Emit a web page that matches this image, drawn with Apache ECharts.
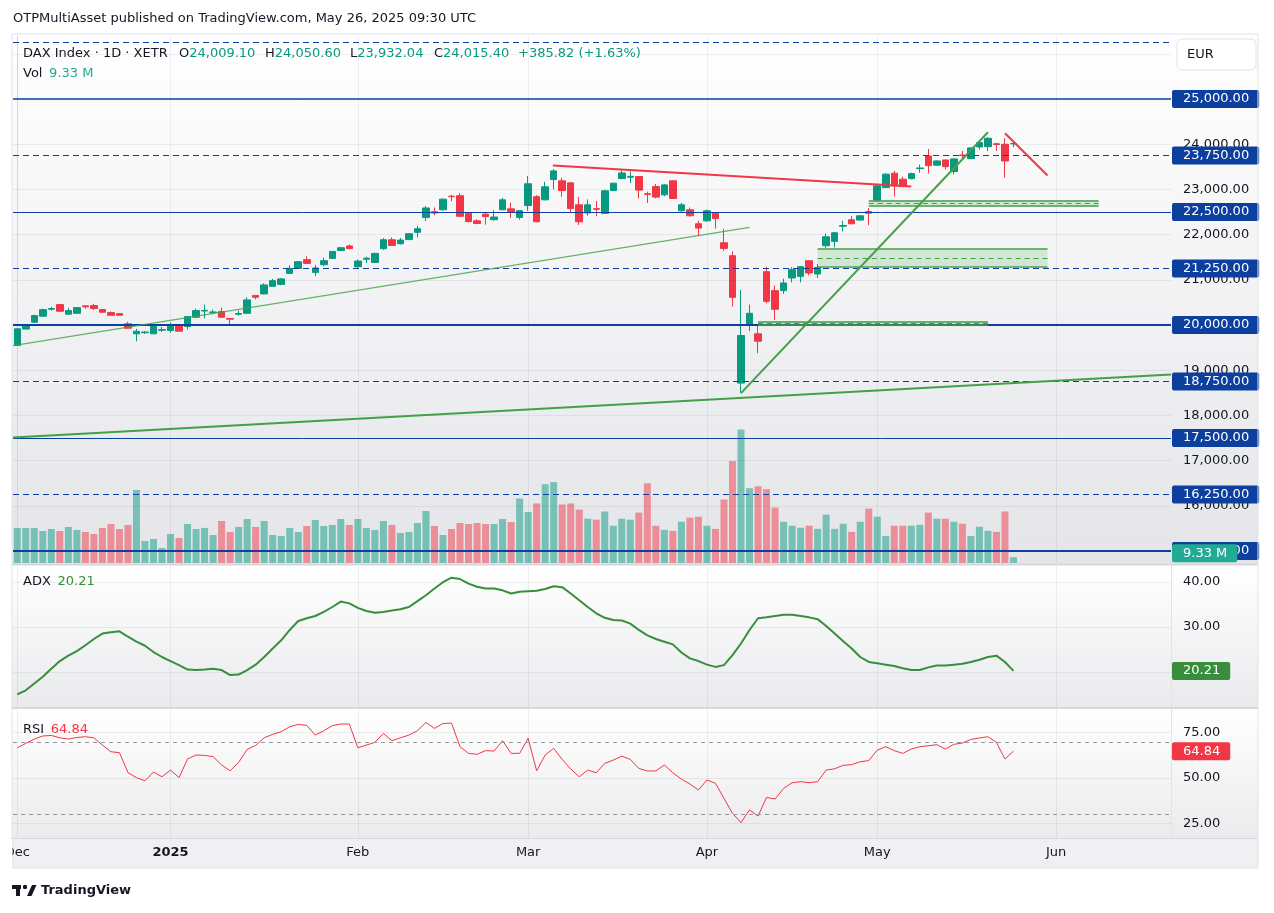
<!DOCTYPE html>
<html>
<head>
<meta charset="utf-8">
<title>DAX Index 1D</title>
<script src="https://cdn.jsdelivr.net/npm/echarts@6/dist/echarts.min.js"></script>
<style>
  html, body { margin: 0; padding: 0; background: #ffffff; }
  #chart { width: 1274px; height: 913px; }
</style>
</head>
<body>
<div id="chart"></div>
<script>
// ---- data --------------------------------------------------------------

// Xetra closed days inside the window
const xetraClosed = ['2024-12-24', '2024-12-25', '2024-12-26', '2024-12-31', '2025-01-01',
  '2025-04-18', '2025-04-21', '2025-05-01'];

// month labels on the time axis (first trading day of the month)
const monthTicks = {
  '2024-12-02': 'Dec', '2025-01-02': '2025', '2025-02-03': 'Feb', '2025-03-03': 'Mar',
  '2025-04-01': 'Apr', '2025-05-02': 'May', '2025-06-02': 'Jun'
};

// daily bars: open, high, low, close (2 Dec 2024 .. 26 May 2025)
const ohlc = [
  [19550, 19930, 19540, 19916], [19910, 20000, 19905, 19990], [20062, 20225, 20055, 20210],
  [20195, 20365, 20190, 20340], [20350, 20400, 20320, 20365], [20452, 20455, 20300, 20305],
  [20240, 20380, 20235, 20320], [20260, 20390, 20255, 20386], [20425, 20430, 20360, 20402],
  [20430, 20470, 20335, 20365], [20342, 20355, 20280, 20283], [20276, 20300, 20210, 20216],
  [20254, 20260, 20210, 20216], [20026, 20070, 19925, 19930], [19805, 19916, 19642, 19863],
  [19830, 19870, 19805, 19845], [19806, 19980, 19800, 19974], [19885, 19960, 19850, 19900],
  [19880, 20060, 19830, 20004], [20010, 20015, 19860, 19863], [19967, 20195, 19900, 20188],
  [20172, 20364, 20150, 20320], [20310, 20452, 20150, 20325], [20275, 20342, 20240, 20290],
  [20298, 20386, 20165, 20172], [20145, 20150, 20018, 20130], [20240, 20320, 20210, 20255],
  [20260, 20614, 20255, 20556], [20655, 20660, 20570, 20615], [20689, 20922, 20680, 20887],
  [20856, 21020, 20850, 20982], [20900, 21040, 20880, 21020], [21143, 21320, 21130, 21254],
  [21254, 21410, 21240, 21401], [21446, 21520, 21350, 21364], [21165, 21330, 21080, 21262],
  [21335, 21490, 21300, 21423], [21474, 21640, 21460, 21629], [21650, 21730, 21640, 21710],
  [21750, 21780, 21680, 21690], [21290, 21450, 21260, 21415], [21455, 21510, 21370, 21480],
  [21385, 21600, 21380, 21585], [21688, 21925, 21665, 21887], [21887, 21940, 21750, 21761],
  [21799, 21925, 21780, 21880], [21890, 22030, 21880, 22020], [22050, 22190, 21940, 22130],
  [22380, 22630, 22300, 22590], [22505, 22600, 22430, 22477], [22550, 22800, 22530, 22785],
  [22850, 22880, 22740, 22840], [22860, 22920, 22400, 22405], [22475, 22480, 22270, 22290],
  [22306, 22340, 22230, 22247], [22453, 22500, 22220, 22400], [22330, 22540, 22310, 22390],
  [22550, 22810, 22540, 22770], [22570, 22710, 22370, 22510], [22380, 22540, 22330, 22530],
  [22645, 23300, 22525, 23125], [22840, 22875, 22270, 22285], [22770, 23170, 22760, 23057],
  [23218, 23450, 23000, 23410], [23190, 23260, 22840, 22975], [23145, 23150, 22505, 22577],
  [22660, 22835, 22215, 22284], [22480, 22780, 22420, 22660], [22575, 22745, 22410, 22560],
  [22470, 22990, 22460, 22970], [22975, 23150, 22970, 23138], [23240, 23450, 23230, 23365],
  [23270, 23400, 23140, 23290], [23285, 23295, 22800, 22985], [22905, 22950, 22700, 22890],
  [23065, 23120, 22800, 22830], [22880, 23120, 22850, 23100], [23190, 23200, 22790, 22800],
  [22527, 22700, 22480, 22660], [22550, 22600, 22400, 22417], [22240, 22306, 21970, 22145],
  [22305, 22550, 22290, 22527], [22475, 22490, 22130, 22355], [21820, 22123, 21645, 21695],
  [21534, 21630, 20408, 20613], [18716, 20777, 18495, 19768], [20004, 20452, 19863, 20260],
  [19806, 20011, 19378, 19642], [21180, 21291, 20480, 20525], [20761, 20870, 20115, 20349],
  [20761, 21026, 20689, 20931], [21042, 21280, 20945, 21225], [21077, 21300, 20945, 21291],
  [21423, 21430, 21100, 21152], [21130, 21350, 21040, 21276], [21755, 22026, 21710, 21953],
  [21850, 22060, 21717, 22041], [22185, 22306, 22070, 22200], [22328, 22416, 22230, 22240],
  [22322, 22430, 22310, 22416], [22510, 22587, 22211, 22475], [22763, 23100, 22740, 23079],
  [23041, 23360, 23030, 23337], [23359, 23410, 22843, 23079], [23227, 23280, 23050, 23063],
  [23240, 23370, 23220, 23350], [23460, 23550, 23370, 23475], [23740, 23895, 23350, 23527],
  [23537, 23640, 23530, 23630], [23652, 23660, 23440, 23505], [23395, 23690, 23330, 23675],
  [23760, 23850, 23680, 23750], [23681, 23930, 23670, 23918], [23940, 24095, 23880, 24035],
  [23946, 24160, 23850, 24131], [24010, 24030, 23850, 23995], [23999, 24131, 23262, 23629.58],
  [24009.10, 24050.60, 23932.04, 24015.40]
];

// volume, millions
const volume = [
  56.4, 56.4, 56.4, 51.5, 54.7, 51.5, 58.0, 53.1, 49.9, 46.7, 56.4, 62.8, 54.7, 61.2, 117.5,
  35.4, 38.6, 24.2, 46.7, 40.3, 62.8, 54.7, 56.4, 45.1, 67.6, 49.9, 58.0, 70.8, 58.0, 67.6,
  45.1, 43.5, 56.4, 49.9, 59.6, 69.2, 59.6, 61.2, 70.8, 61.2, 70.8, 56.4, 53.1, 67.6, 61.2,
  48.3, 49.9, 64.4, 83.7, 59.6, 45.1, 54.7, 64.4, 62.8, 64.4, 62.8, 62.8, 70.8, 66.0, 103.8,
  82.1, 95.8, 126.7, 130.1, 94.2, 95.8, 86.0, 71.3, 69.7, 82.8, 59.9, 71.3, 69.7, 81.1, 128.3,
  59.9, 53.3, 51.7, 66.3, 72.9, 74.5, 59.9, 54.9, 102.2, 164.2, 214.9, 120.3, 123.5, 118.7, 89.2,
  66.3, 59.9, 56.7, 59.9, 54.9, 77.8, 54.9, 63.1, 50.1, 66.3, 87.6, 74.5, 43.5, 59.9, 59.9,
  59.9, 61.5, 81.1, 71.3, 71.3, 66.3, 63.1, 43.5, 58.3, 51.7, 50.1, 82.8, 9.33
];

// ADX (14)
const adx = [
  15.0, 15.9, 17.4, 18.9, 20.7, 22.4, 23.6, 24.6, 25.9, 27.3, 28.5, 28.8, 29.0, 27.8, 26.7,
  25.8, 24.4, 23.3, 22.4, 21.5, 20.5, 20.4, 20.5, 20.7, 20.4, 19.3, 19.4, 20.4, 21.6, 23.3,
  25.2, 27.0, 29.3, 31.3, 31.9, 32.4, 33.3, 34.4, 35.6, 35.2, 34.2, 33.5, 33.1, 33.3, 33.6,
  33.9, 34.4, 35.7, 37.0, 38.5, 39.9, 40.9, 40.6, 39.6, 38.9, 38.5, 38.5, 38.1, 37.4, 37.8,
  37.9, 38.0, 38.4, 39.0, 38.8, 37.4, 35.9, 34.4, 33.0, 32.0, 31.5, 31.4, 30.7, 29.3, 28.1,
  27.3, 26.7, 26.1, 24.3, 23.0, 22.4, 21.6, 21.1, 21.5, 23.7, 26.3, 29.3, 31.9, 32.1, 32.4,
  32.7, 32.7, 32.4, 32.1, 31.7, 30.2, 28.5, 26.8, 25.2, 23.3, 22.2, 21.9, 21.6, 21.3, 20.8,
  20.4, 20.4, 21.0, 21.4, 21.4, 21.6, 21.8, 22.2, 22.7, 23.3, 23.6, 22.2, 20.21
];

// RSI (14)
const rsi = [
  66.7, 69.1, 71.5, 73.2, 73.5, 72.2, 71.5, 72.4, 72.8, 72.2, 68.2, 64.5, 64.0, 53.0, 50.2,
  48.5, 53.3, 50.7, 54.4, 50.2, 60.5, 62.7, 62.5, 61.8, 57.2, 54.0, 58.6, 65.8, 68.0, 72.2,
  74.1, 75.6, 78.3, 79.6, 79.0, 73.7, 76.1, 78.9, 79.8, 79.8, 66.7, 68.2, 69.7, 74.6, 70.6,
  72.2, 73.7, 76.1, 80.7, 77.4, 80.1, 80.3, 67.3, 63.6, 63.1, 65.1, 64.9, 70.6, 63.6, 63.6,
  71.9, 54.0, 62.7, 66.4, 60.3, 55.0, 50.7, 54.4, 52.9, 58.1, 59.9, 62.1, 60.3, 55.3, 53.9,
  53.9, 57.2, 52.9, 49.4, 46.7, 43.4, 48.9, 47.1, 38.8, 30.5, 25.4, 32.4, 29.0, 39.3, 38.4,
  44.3, 47.4, 48.0, 47.4, 48.0, 54.4, 55.1, 57.0, 57.4, 59.0, 59.6, 65.4, 67.3, 65.1, 63.6,
  66.0, 67.3, 67.8, 68.4, 66.0, 68.6, 69.3, 71.3, 72.1, 72.8, 69.7, 60.5, 64.84
];

// axis tick values
const priceTicks = [16000, 17000, 18000, 19000, 20000, 21000, 22000, 23000, 24000];
const priceGrid = [15000, 16000, 17000, 18000, 19000, 20000, 21000, 22000, 23000, 24000, 25000, 26000];
const adxTicks = [20, 30, 40];
const rsiTicks = [25, 50, 75];
const rsiBands = [70, 30];

// horizontal price levels drawn on the chart
const priceLevels = [26250, 25000, 23750, 22500, 21250, 20000, 18750, 17500, 16250, 15000];

// trend lines: [bar index, price] pairs
const trendJanSupport = [[-0.5, 19545], [86, 22160]];
const trendLongSupport = [[-0.5, 17511], [135.5, 18905]];
const trendAprilRally = [[85, 18495], [114, 24265]];
const trendMarchTop = [[62.9, 23528], [105, 23064]];
const trendMayPullback = [[116, 24243], [121, 23309]];

// demand zones: [from bar, to bar, top, middle, bottom]
const zones = [
  [100, 127, 22755, 22690, 22630],
  [94, 121, 21686, 21486, 21294],
  [87, 114, 20077, 20044, 20011]
];

// ---- helpers -------------------------------------------------------------

function buildDates(start, count, closed) {
  const out = [];
  const d = new Date(start + 'T00:00:00Z');
  while (out.length < count) {
    const day = d.getUTCDay();
    const s = d.toISOString().slice(0, 10);
    if (day !== 0 && day !== 6 && closed.indexOf(s) < 0) out.push(s);
    d.setUTCDate(d.getUTCDate() + 1);
  }
  return out;
}

const SLOTS = 136;               // bars that fit the window, incl. empty future
const dates = buildDates('2024-12-02', SLOTS, xetraClosed);
const monthIdx = dates.map((d, i) => (monthTicks[d] ? i : -1)).filter(i => i >= 0);

const FONT = '"DejaVu Sans", sans-serif';
const TEXT = '#131722';
const UP = '#089981', DOWN = '#f23645';
const LEVEL = '#0d3f9f';
const GRIDLINE = 'rgba(42,46,57,0.07)';
const NOLINE = { color: 'rgba(0,0,0,0)', width: 0 };

const fmt2 = v => Number(v).toLocaleString('en-US', { minimumFractionDigits: 2, maximumFractionDigits: 2 });
const isUp = bar => bar[3] >= bar[0];

function tag(bg, text, lift) {
  return {
    show: true, position: 'end', distance: 1,
    formatter: text, color: '#ffffff', backgroundColor: bg,
    padding: [3, 10, 2, 11], borderRadius: 2,
    fontFamily: FONT, fontSize: 13,
    offset: [0, lift || 0]
  };
}

function markerHost(xIdx, yIdx, z, extra) {
  return Object.assign({ type: 'line', xAxisIndex: xIdx, yAxisIndex: yIdx, data: [], z: z, silent: true }, extra);
}

function segment(pts) {
  return [{ coord: pts[0] }, { coord: pts[1] }];
}

function gridLines(xIdx, yIdx, levels) {
  return markerHost(xIdx, yIdx, 1, {
    markLine: {
      symbol: 'none', silent: true, animation: false, label: { show: false },
      lineStyle: { color: GRIDLINE, width: 1, type: 'solid' },
      data: levels.map(v => ({ yAxis: v })).concat(monthIdx.map(i => ({ xAxis: i })))
    }
  });
}

function trendSeries(pts, color, width) {
  return markerHost(1, 0, 6, {
    markLine: {
      symbol: 'none', silent: true, animation: false, label: { show: false },
      lineStyle: { color: color, width: width, type: 'solid' },
      data: [segment(pts)]
    }
  });
}

// ---- chart ---------------------------------------------------------------

const chart = echarts.init(document.getElementById('chart'), null, { renderer: 'canvas' });

const last = ohlc[ohlc.length - 1];
const prevClose = ohlc[ohlc.length - 2][3];
const change = last[3] - prevClose;
const changePct = change / prevClose * 100;
const lastVol = volume[volume.length - 1];

const levelWidth = { 25000: 1.5, 20000: 2, 15000: 2 };

const option = {
  animation: false,
  backgroundColor: '#ffffff',
  textStyle: { fontFamily: FONT },
  grid: [
    { left: 13, right: 103, top: 36, height: 527 },
    { left: 13, right: 103, top: 36, height: 527 },
    { left: 13, right: 103, top: 566, height: 141 },
    { left: 13, right: 103, top: 709, height: 129 }
  ],
  xAxis: [
    { type: 'category', gridIndex: 0, data: dates, show: false },
    { type: 'value', gridIndex: 0, min: -0.5, max: SLOTS - 0.5, show: false },
    { type: 'category', gridIndex: 1, data: dates, show: false },
    { type: 'category', gridIndex: 2, data: dates, show: false },
    {
      type: 'category', gridIndex: 3, data: dates,
      axisLine: { show: false }, axisTick: { show: false }, splitLine: { show: false },
      axisLabel: {
        interval: (i, d) => !!monthTicks[d],
        formatter: d => monthTicks[d] === '2025' ? '{b|2025}' : (monthTicks[d] || ''),
        rich: { b: { fontWeight: 'bold', fontSize: 13, color: TEXT, fontFamily: FONT } },
        color: TEXT, fontSize: 13, fontFamily: FONT, margin: 8
      }
    }
  ],
  yAxis: [
    {
      type: 'value', gridIndex: 0, position: 'right', min: 14736, max: 26394,
      splitLine: { show: false }, axisTick: { show: false },
      axisLine: { show: true, lineStyle: { color: '#e0e3eb' } },
      axisLabel: { customValues: priceTicks, formatter: fmt2, color: TEXT, fontSize: 13, fontFamily: FONT, margin: 12 }
    },
    { type: 'value', gridIndex: 1, min: 0, max: 848, show: false },
    {
      type: 'value', gridIndex: 2, position: 'right', min: 12.2, max: 43.5,
      splitLine: { show: false }, axisTick: { show: false },
      axisLine: { show: true, lineStyle: { color: '#e0e3eb' } },
      axisLabel: { customValues: adxTicks, formatter: fmt2, color: TEXT, fontSize: 13, fontFamily: FONT, margin: 12 }
    },
    {
      type: 'value', gridIndex: 3, position: 'right', min: 16.9, max: 88.1,
      splitLine: { show: false }, axisTick: { show: false },
      axisLine: { show: true, lineStyle: { color: '#e0e3eb' } },
      axisLabel: { customValues: rsiTicks, formatter: fmt2, color: TEXT, fontSize: 13, fontFamily: FONT, margin: 12 }
    }
  ],
  series: [
    // faint grid
    gridLines(1, 0, priceGrid),
    gridLines(3, 2, adxTicks),
    gridLines(4, 3, rsiTicks),

    // horizontal levels with price tags
    markerHost(1, 0, 2, {
      markLine: {
        symbol: 'none', silent: true, animation: false,
        data: priceLevels.map(v => ({
          yAxis: v,
          lineStyle: { color: LEVEL, width: levelWidth[v] || 1, type: v % 2500 === 0 ? 'solid' : [6, 4] },
          label: v > 25000 ? { show: false } : tag(LEVEL, fmt2(v))
        }))
      }
    }),

    // volume overlay
    {
      type: 'bar', xAxisIndex: 2, yAxisIndex: 1, z: 3, barWidth: 7, silent: true,
      data: volume.map((v, i) => ({
        value: v,
        itemStyle: { color: isUp(ohlc[i]) ? 'rgba(8,153,129,0.5)' : 'rgba(242,54,69,0.5)' }
      })),
      markLine: {
        symbol: 'none', silent: true, animation: false,
        lineStyle: NOLINE,
        data: [{ yAxis: lastVol, label: tag('#22ab94', lastVol + ' M', -4) }]
      }
    },

    // price candles
    {
      type: 'candlestick', xAxisIndex: 0, yAxisIndex: 0, z: 4, barWidth: 7, silent: true,
      data: ohlc.map(b => [b[0], b[3], b[2], b[1]]),
      itemStyle: { color: UP, color0: DOWN, borderColor: UP, borderColor0: DOWN, borderWidth: 1 }
    },

    // demand zones
    markerHost(1, 0, 5, {
      markArea: {
        silent: true, animation: false,
        itemStyle: { color: 'rgba(76,175,80,0.2)', borderWidth: 0 },
        data: zones.map(z => [{ coord: [z[0], z[2]] }, { coord: [z[1], z[4]] }])
      },
      markLine: {
        symbol: 'none', silent: true, animation: false, label: { show: false },
        data: zones.flatMap(z => [
          [{ coord: [z[0], z[2]], lineStyle: { color: '#43a047', width: 1.5, type: 'solid' } }, { coord: [z[1], z[2]] }],
          [{ coord: [z[0], z[3]], lineStyle: { color: '#43a047', width: 1, type: [5, 4] } }, { coord: [z[1], z[3]] }],
          [{ coord: [z[0], z[4]], lineStyle: { color: '#43a047', width: 1.5, type: 'solid' } }, { coord: [z[1], z[4]] }]
        ])
      }
    }),

    // trend lines
    trendSeries(trendJanSupport, 'rgba(67,160,71,0.8)', 1.2),
    trendSeries(trendLongSupport, '#43a047', 2),
    trendSeries(trendAprilRally, '#43a047', 2),
    trendSeries(trendMarchTop, DOWN, 2),
    trendSeries(trendMayPullback, DOWN, 2),

    // ADX
    {
      type: 'line', xAxisIndex: 3, yAxisIndex: 2, z: 3, data: adx, showSymbol: false, silent: true,
      lineStyle: { color: '#388e3c', width: 2 },
      markLine: {
        symbol: 'none', silent: true, animation: false, lineStyle: NOLINE,
        data: [{ yAxis: adx[adx.length - 1], label: tag('#388e3c', fmt2(adx[adx.length - 1])) }]
      }
    },

    // RSI
    {
      type: 'line', xAxisIndex: 4, yAxisIndex: 3, z: 3, data: rsi, showSymbol: false, silent: true,
      lineStyle: { color: '#f23645', width: 1 },
      markLine: {
        symbol: 'none', silent: true, animation: false,
        data: rsiBands.map(v => ({
          yAxis: v, label: { show: false },
          lineStyle: { color: '#9598a1', width: 1, type: [4, 4] }
        })).concat([{
          yAxis: rsi[rsi.length - 1], lineStyle: NOLINE,
          label: tag('#f23645', fmt2(rsi[rsi.length - 1]))
        }])
      }
    }
  ],
  graphic: [
    // pane backgrounds
    { type: 'rect', z: -10, silent: true, shape: { x: 12, y: 34, width: 1246, height: 530 },
      style: { fill: { type: 'linear', x: 0, y: 0, x2: 0, y2: 1, colorStops: [{ offset: 0, color: '#ffffff' }, { offset: 1, color: '#e4e5e8' }] } } },
    { type: 'rect', z: -10, silent: true, shape: { x: 12, y: 566, width: 1246, height: 141 },
      style: { fill: { type: 'linear', x: 0, y: 0, x2: 0, y2: 1, colorStops: [{ offset: 0, color: '#ffffff' }, { offset: 1, color: '#e9eaec' }] } } },
    { type: 'rect', z: -10, silent: true, shape: { x: 12, y: 709, width: 1246, height: 129 },
      style: { fill: { type: 'linear', x: 0, y: 0, x2: 0, y2: 1, colorStops: [{ offset: 0, color: '#ffffff' }, { offset: 1, color: '#ebebed' }] } } },
    { type: 'rect', z: -10, silent: true, shape: { x: 12, y: 838, width: 1246, height: 30 },
      style: { fill: '#f0f0f2' } },
    // pane separators and frame
    { type: 'rect', z: 20, silent: true, shape: { x: 12, y: 563.5, width: 1246, height: 2 }, style: { fill: '#d6d8de' } },
    { type: 'rect', z: 20, silent: true, shape: { x: 12, y: 707, width: 1246, height: 2 }, style: { fill: '#d6d8de' } },
    { type: 'rect', z: 20, silent: true, shape: { x: 12, y: 838, width: 1246, height: 1 }, style: { fill: '#d6d8de' } },
    { type: 'rect', z: 20, silent: true, shape: { x: 12, y: 34, width: 1246, height: 834 },
      style: { fill: null, stroke: '#e0e3eb', lineWidth: 1 } },
    // clip the first month label at the frame edge
    { type: 'rect', z: 50, silent: true, shape: { x: 0, y: 839, width: 12, height: 30 }, style: { fill: '#ffffff' } },

    // currency box
    { type: 'rect', z: 30, silent: true, shape: { x: 1177, y: 39, width: 79, height: 31, r: 5 },
      style: { fill: '#ffffff', stroke: '#e0e3eb', lineWidth: 1 } },
    { type: 'text', z: 31, silent: true, style: { x: 1187, y: 55, text: 'EUR', fill: TEXT, font: '13px ' + FONT, verticalAlign: 'middle' } },

    // title
    { type: 'text', z: 30, silent: true, style: { x: 13, y: 19, text: 'OTPMultiAsset published on TradingView.com, May 26, 2025 09:30 UTC', fill: TEXT, font: '13px ' + FONT, verticalAlign: 'middle' } },

    // legend: symbol + OHLC
    { type: 'text', z: 30, silent: true, style: { x: 23, y: 54, text: 'DAX Index · 1D · XETR', fill: TEXT, font: '13px ' + FONT, verticalAlign: 'middle' } },
    { type: 'text', z: 30, silent: true, style: { x: 179, y: 54, text: '{k|O}{v|' + fmt2(last[0]) + '}', rich: { k: { fill: TEXT, font: '13px ' + FONT }, v: { fill: UP, font: '13px ' + FONT } }, verticalAlign: 'middle' } },
    { type: 'text', z: 30, silent: true, style: { x: 265, y: 54, text: '{k|H}{v|' + fmt2(last[1]) + '}', rich: { k: { fill: TEXT, font: '13px ' + FONT }, v: { fill: UP, font: '13px ' + FONT } }, verticalAlign: 'middle' } },
    { type: 'text', z: 30, silent: true, style: { x: 350, y: 54, text: '{k|L}{v|' + fmt2(last[2]) + '}', rich: { k: { fill: TEXT, font: '13px ' + FONT }, v: { fill: UP, font: '13px ' + FONT } }, verticalAlign: 'middle' } },
    { type: 'text', z: 30, silent: true, style: { x: 434, y: 54, text: '{k|C}{v|' + fmt2(last[3]) + '}', rich: { k: { fill: TEXT, font: '13px ' + FONT }, v: { fill: UP, font: '13px ' + FONT } }, verticalAlign: 'middle' } },
    { type: 'text', z: 30, silent: true, style: { x: 518, y: 54, text: '+' + fmt2(change) + ' (+' + changePct.toFixed(2) + '%)', fill: UP, font: '13px ' + FONT, verticalAlign: 'middle' } },
    { type: 'text', z: 30, silent: true, style: { x: 23, y: 74, text: '{k|Vol}  {v|' + lastVol + ' M}', rich: { k: { fill: TEXT, font: '13px ' + FONT }, v: { fill: '#22ab94', font: '13px ' + FONT } }, verticalAlign: 'middle' } },
    { type: 'text', z: 30, silent: true, style: { x: 23, y: 582, text: '{k|ADX}  {v|' + fmt2(adx[adx.length - 1]) + '}', rich: { k: { fill: TEXT, font: '13px ' + FONT }, v: { fill: '#388e3c', font: '13px ' + FONT } }, verticalAlign: 'middle' } },
    { type: 'text', z: 30, silent: true, style: { x: 23, y: 730, text: '{k|RSI}  {v|' + fmt2(rsi[rsi.length - 1]) + '}', rich: { k: { fill: TEXT, font: '13px ' + FONT }, v: { fill: '#f23645', font: '13px ' + FONT } }, verticalAlign: 'middle' } },

    // TradingView mark
    { type: 'rect', z: 30, silent: true, shape: { x: 12, y: 885, width: 9, height: 4 }, style: { fill: TEXT } },
    { type: 'rect', z: 30, silent: true, shape: { x: 16, y: 885, width: 4, height: 11 }, style: { fill: TEXT } },
    { type: 'circle', z: 30, silent: true, shape: { cx: 25, cy: 887, r: 2.2 }, style: { fill: TEXT } },
    { type: 'polygon', z: 30, silent: true, shape: { points: [[27, 896], [32, 885], [36.5, 885], [31.5, 896]] }, style: { fill: TEXT } },
    { type: 'text', z: 30, silent: true, style: { x: 41, y: 891, text: 'TradingView', fill: TEXT, font: 'bold 13px ' + FONT, verticalAlign: 'middle' } }
  ]
};

chart.setOption(option);
window.addEventListener('resize', chart.resize);
</script>
</body>
</html>
